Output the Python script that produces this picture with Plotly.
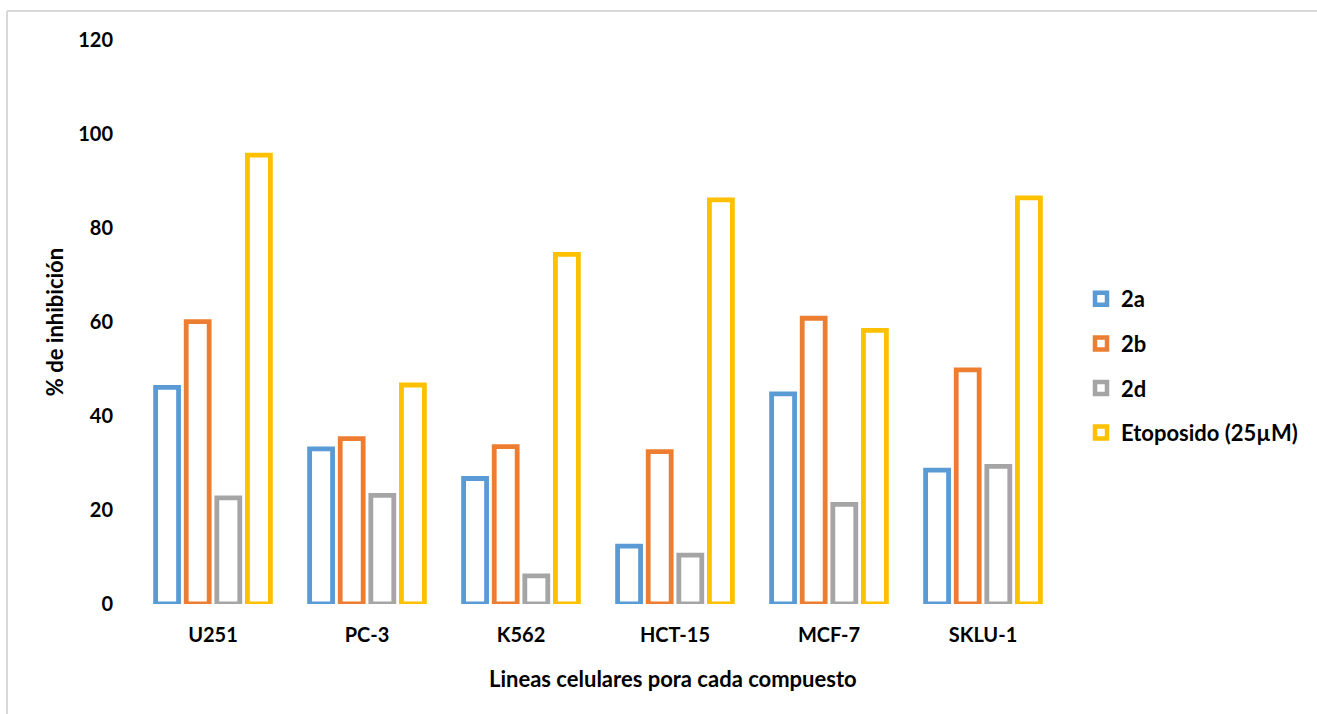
import plotly.graph_objects as go

# Cell lines on the x axis
lineas = ["U251", "PC-3", "K562", "HCT-15", "MCF-7", "SKLU-1"]

# % inhibition per compound
inh_2a = [46.1, 33.0, 26.7, 12.3, 44.7, 28.5]
inh_2b = [60.1, 35.2, 33.5, 32.4, 60.8, 49.8]
inh_2d = [22.6, 23.1, 6.0, 10.4, 21.2, 29.3]
inh_eto = [95.5, 46.6, 74.4, 86.0, 58.2, 86.4]

series = [
    ("2a", inh_2a, "#5B9BD5"),
    ("2b", inh_2b, "#ED7D31"),
    ("2d", inh_2d, "#A5A5A5"),
    ("Etoposido (25µM)", inh_eto, "#FFC000"),
]

y_ticks = [0, 20, 40, 60, 80, 100, 120]

fig = go.Figure()
for i, (name, vals, color) in enumerate(series):
    fig.add_trace(go.Bar(
        x=lineas, y=vals, name=name,
        showlegend=False,
        marker=dict(color="white", line=dict(color=color, width=4.8)),
        hoverinfo="x+y+name",
    ))
# Legend keys: hollow squares with a thick coloured border
for i, (name, vals, color) in enumerate(series):
    fig.add_trace(go.Scatter(
        x=[None], y=[None], mode="markers", name=name,
        legendgroup=f"g{i}",
        marker=dict(symbol="square", size=12, color="white",
                    line=dict(color=color, width=4.5)),
    ))

W, H = 1317, 714
L, R, T, B = 136, 257, 40, 110
pw, ph = W - L - R, H - T - B

def px_x(px):
    return (px - L) / pw

def px_y(py):
    return (H - B - py) / ph

fig.update_layout(
    width=W, height=H,
    margin=dict(l=L, r=R, t=T, b=B, autoexpand=False),
    paper_bgcolor="white", plot_bgcolor="white",
    font=dict(family="Lato", size=20, color="black", weight="bold"),
    barmode="group", bargap=0.205, bargroupgap=0.25,
    showlegend=True,
    legend=dict(
        x=px_x(1081), y=px_y(366), xanchor="left", yanchor="middle",
        tracegroupgap=13, font=dict(size=22, weight="bold"),
        bgcolor="rgba(0,0,0,0)",
    ),
    xaxis=dict(
        showline=False, showgrid=False, zeroline=False, ticks="",
        ticklabelstandoff=17,
        automargin=False,
    ),
    yaxis=dict(
        range=[0, 120], tickvals=y_ticks, ticktext=[str(v) for v in y_ticks],
        showline=False, showgrid=False, zeroline=False, ticks="",
        ticklabelstandoff=22,
        title=dict(text="% de inhibición", standoff=8,
                   font=dict(size=22, weight="bold")),
        automargin=False,
    ),
    annotations=[
        dict(text="Lineas celulares pora cada compuesto",
             xref="paper", yref="paper", x=px_x(673), y=px_y(678),
             xanchor="center", yanchor="middle", showarrow=False,
             font=dict(size=22, weight="bold")),
    ],
    shapes=[
        dict(type="line", xref="paper", yref="paper",
             x0=px_x(7), x1=px_x(W + 5), y0=px_y(11), y1=px_y(11),
             line=dict(color="#d9d9d9", width=2)),
        dict(type="line", xref="paper", yref="paper",
             x0=px_x(7), x1=px_x(7), y0=px_y(11), y1=px_y(H + 5),
             line=dict(color="#d9d9d9", width=2)),
    ],
)

fig.write_html("out.html")
